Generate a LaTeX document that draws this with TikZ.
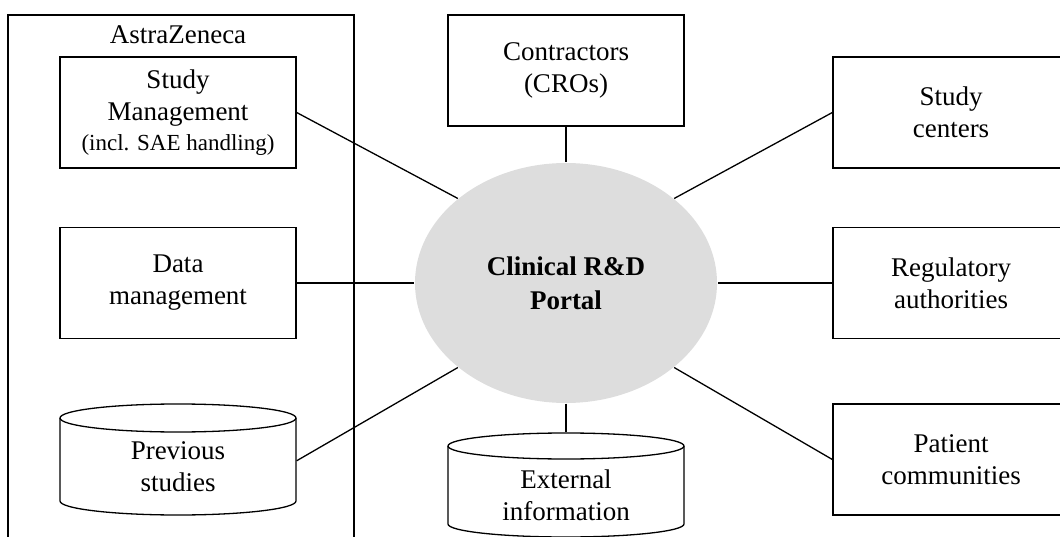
\documentclass[tikz,border=0pt]{standalone}
\usepackage{fontspec}
\setmainfont{Liberation Serif}
\usetikzlibrary{shapes.geometric}
\definecolor{portalgray}{HTML}{DDDDDD}
\begin{document}
\begin{tikzpicture}[x=1pt,y=-1pt,line width=1.3pt,
  txt/.style={align=center,inner sep=0pt,font=\fontsize{27}{32}\selectfont},
  box/.style={txt,draw,minimum width=236pt,minimum height=111pt},
  shapeonly/.style={txt,minimum width=236pt},
  conn/.style={line width=1.3pt}]
\useasboundingbox (0,0) rectangle (1060,537);
\clip (0,0) rectangle (1060,537);
% AstraZeneca container
\draw (8,15) rectangle (354,570);
\node[txt] (az) at (178,35) {AstraZeneca};
% central ellipse
\node[ellipse,fill=portalgray,minimum width=302pt,minimum height=240pt,inner sep=0pt,
      align=center,font=\fontsize{27}{34}\bfseries\selectfont] (portal) at (566,283) {Clinical R\&D\\Portal};
% left boxes
\node[box] (sm) at (178,112.5) {Study\\Management\\[-2pt]{\fontsize{23}{28}\selectfont (incl. SAE handling)}};
\node[box] (dm) at (178,283) {Data\\management};
% previous studies cylinder
\draw (60,418) -- (60,501) arc[start angle=180,end angle=0,x radius=118,y radius=14] -- (296,418);
\draw (178,418) ellipse [x radius=118,y radius=14];
\node[shapeonly,minimum height=84pt] (ps) at (178,467) {Previous\\studies};
% contractors
\node[box] (cro) at (566,70.5) {Contractors\\(CROs)};
% external information cylinder
\draw (448,446) -- (448,524) arc[start angle=180,end angle=0,x radius=118,y radius=13] -- (684,446);
\draw (566,446) ellipse [x radius=118,y radius=13];
\node[shapeonly,minimum height=124pt] (ext) at (566,495) {External\\information};
% right boxes
\node[box] (sc) at (951,112.5) {Study\\centers};
\node[box] (ra) at (951,283) {Regulatory\\authorities};
\node[box] (pc) at (951,459.5) {Patient\\communities};
% connectors
\draw[conn] (sm.east) -- (portal.142);
\draw[conn] (dm.east) -- (portal.west);
\draw[conn] (ps.3) -- (portal.218);
\draw[conn] (cro.south) -- (portal.north);
\draw[conn] (portal.south) -- (ext.north);
\draw[conn] (sc.west) -- (portal.38);
\draw[conn] (ra.west) -- (portal.east);
\draw[conn] (pc.west) -- (portal.322);
\end{tikzpicture}
\end{document}
